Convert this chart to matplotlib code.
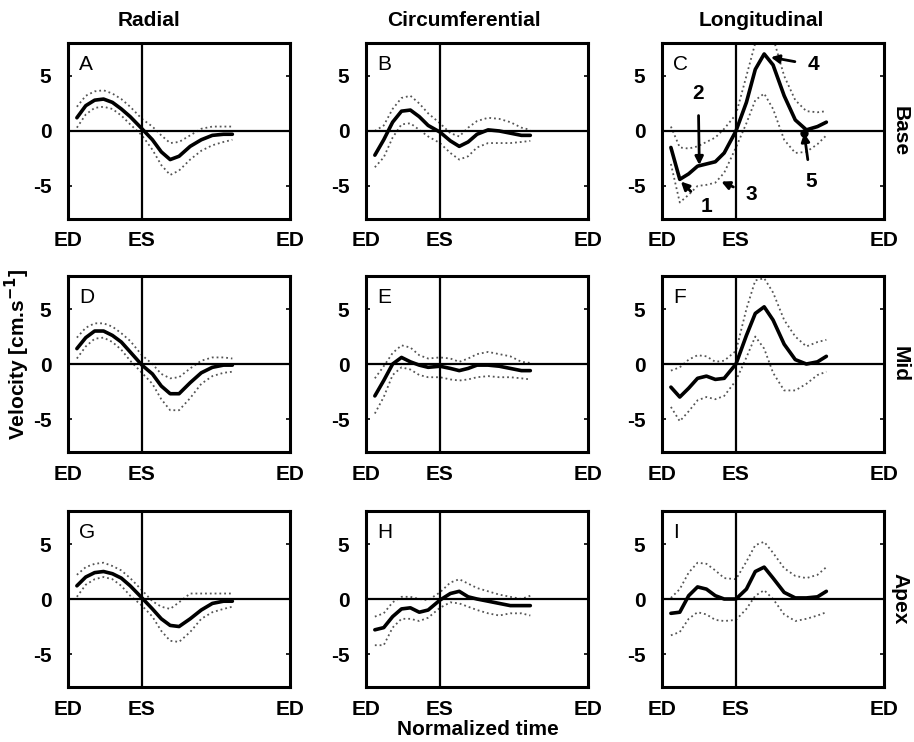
import matplotlib
matplotlib.use("Agg")
import matplotlib.pyplot as plt
import numpy as np

plt.rcParams['font.family'] = ['Liberation Sans', 'DejaVu Sans']

# normalized time: 0 = ED, 1/3 = ES, 1 = ED
t = [0.04, 0.08, 0.12, 0.16, 0.20, 0.24, 0.28, 0.333, 0.38, 0.42, 0.46, 0.50, 0.55, 0.60, 0.65, 0.70, 0.74]

col_titles = ['Radial', 'Circumferential', 'Longitudinal']
row_titles = ['Base', 'Mid', 'Apex']
letters = ['A', 'B', 'C', 'D', 'E', 'F', 'G', 'H', 'I']
xtick_pos = [0, 1 / 3, 1]
xtick_labels = ['ED', 'ES', 'ED']
ytick_pos = [-5, 0, 5]

# mean velocity, upper and lower bound for each panel (cm/s)
A_mean = [1.2, 2.3, 2.8, 2.9, 2.6, 2.0, 1.3, 0.2, -0.8, -1.9, -2.6, -2.3, -1.4, -0.8, -0.4, -0.3, -0.3]
A_up = [2.2, 3.2, 3.6, 3.7, 3.4, 2.9, 2.2, 1.1, 0.4, -0.4, -1.1, -1.0, -0.4, 0.2, 0.4, 0.4, 0.4]
A_lo = [0.3, 1.5, 2.1, 2.2, 2.0, 1.4, 0.6, -0.4, -1.7, -3.1, -4.0, -3.6, -2.6, -1.8, -1.3, -1.0, -0.8]

B_mean = [-2.2, -0.8, 0.8, 1.8, 1.9, 1.3, 0.5, -0.1, -0.9, -1.4, -1.0, -0.3, 0.1, 0.0, -0.2, -0.4, -0.4]
B_up = [0.0, 0.5, 2.0, 3.0, 3.2, 2.5, 1.6, 0.7, -0.2, -0.5, 0.3, 0.9, 1.2, 1.1, 0.8, 0.3, 0.1]
B_lo = [-3.3, -2.4, -0.6, 0.6, 0.7, 0.1, -0.5, -1.1, -2.0, -2.6, -2.3, -1.5, -1.1, -1.1, -1.1, -1.0, -0.9]

C_mean = [-1.5, -4.4, -3.9, -3.2, -3.0, -2.8, -2.0, 0.0, 2.6, 5.6, 7.0, 6.0, 3.2, 1.0, 0.1, 0.4, 0.8]
C_up = [0.4, -1.5, -1.6, -1.4, -1.0, -0.6, 0.2, 1.5, 5.0, 8.0, 9.5, 8.5, 5.0, 2.8, 1.8, 1.7, 1.8]
C_lo = [-3.0, -6.5, -5.8, -5.0, -4.9, -4.7, -3.8, -1.5, 0.7, 2.8, 3.4, 2.0, -0.8, -2.0, -1.9, -1.2, -0.4]

D_mean = [1.4, 2.4, 3.0, 3.0, 2.6, 2.0, 1.1, -0.1, -0.9, -2.0, -2.7, -2.7, -1.7, -0.8, -0.3, -0.1, -0.1]
D_up = [2.4, 3.3, 3.7, 3.7, 3.4, 2.8, 2.1, 0.8, 0.0, -0.9, -1.3, -1.2, -0.4, 0.3, 0.6, 0.6, 0.5]
D_lo = [0.5, 1.6, 2.3, 2.4, 2.0, 1.3, 0.3, -0.8, -1.8, -3.2, -4.2, -4.2, -3.1, -1.8, -1.1, -0.8, -0.7]

E_mean = [-2.9, -1.5, 0.0, 0.6, 0.2, -0.1, -0.3, -0.2, -0.4, -0.6, -0.4, -0.1, -0.1, -0.2, -0.4, -0.6, -0.6]
E_up = [-1.3, -0.2, 1.0, 1.7, 1.5, 0.8, 0.5, 0.6, 0.5, 0.2, 0.5, 0.9, 1.1, 0.9, 0.7, 0.2, 0.1]
E_lo = [-4.5, -3.0, -1.0, -0.3, -0.5, -1.0, -1.2, -1.2, -1.4, -1.5, -1.4, -1.2, -1.1, -1.2, -1.2, -1.3, -1.4]

F_mean = [-2.1, -3.0, -2.2, -1.3, -1.1, -1.4, -1.3, 0.0, 2.6, 4.6, 5.2, 4.0, 1.8, 0.4, 0.0, 0.2, 0.7]
F_up = [-0.6, -0.3, 0.4, 0.8, 0.7, 0.2, 0.3, 1.2, 5.0, 7.6, 7.8, 6.5, 4.0, 2.5, 1.6, 2.0, 2.2]
F_lo = [-3.9, -5.2, -4.3, -3.3, -3.0, -3.2, -2.9, -1.5, 0.6, 2.5, 1.4, -0.8, -2.4, -2.4, -1.8, -1.0, -0.7]

G_mean = [1.2, 2.0, 2.4, 2.5, 2.3, 1.9, 1.2, 0.1, -0.9, -1.8, -2.4, -2.5, -1.8, -1.0, -0.4, -0.2, -0.2]
G_up = [2.2, 2.9, 3.2, 3.3, 3.0, 2.6, 1.9, 0.8, -0.2, -0.7, -0.9, -0.3, 0.5, 0.5, 0.5, 0.5, 0.5]
G_lo = [0.2, 1.3, 1.8, 2.0, 1.8, 1.2, 0.3, -0.6, -1.6, -2.9, -3.8, -3.9, -3.0, -1.8, -1.2, -0.9, -0.7]

H_mean = [-2.8, -2.6, -1.6, -0.9, -0.8, -1.2, -1.0, -0.1, 0.5, 0.7, 0.2, 0.0, -0.2, -0.4, -0.6, -0.6, -0.6]
H_up = [-1.6, -1.3, -0.3, 0.2, 0.2, 0.0, -0.1, 0.6, 1.5, 1.8, 1.4, 1.0, 0.7, 0.4, 0.2, 0.0, 0.3]
H_lo = [-4.2, -4.2, -2.6, -1.8, -1.8, -2.0, -1.7, -0.8, -0.3, -0.4, -0.7, -1.0, -1.3, -1.5, -1.3, -1.3, -1.5]

I_mean = [-1.3, -1.2, 0.3, 1.1, 0.9, 0.3, 0.0, 0.0, 0.9, 2.5, 2.9, 1.9, 0.6, 0.1, 0.1, 0.2, 0.7]
I_up = [0.1, 0.9, 2.4, 3.3, 3.2, 2.6, 1.9, 1.8, 3.4, 4.9, 5.2, 4.2, 2.8, 2.1, 1.9, 2.2, 2.9]
I_lo = [-3.3, -3.0, -1.8, -1.2, -1.4, -1.9, -2.0, -1.9, -0.9, 0.3, 0.8, 0.0, -1.4, -2.0, -1.8, -1.5, -1.2]

panels = [(A_mean, A_up, A_lo), (B_mean, B_up, B_lo), (C_mean, C_up, C_lo),
          (D_mean, D_up, D_lo), (E_mean, E_up, E_lo), (F_mean, F_up, F_lo),
          (G_mean, G_up, G_lo), (H_mean, H_up, H_lo), (I_mean, I_up, I_lo)]

# numbered events in panel C: (label, point xy, label xy)
events = [('1', (0.085, -4.6), (0.20, -6.9)),
          ('2', (0.168, -3.1), (0.163, 3.4)),
          ('3', (0.267, -4.6), (0.40, -5.8)),
          ('4', (0.49, 6.7), (0.68, 6.0)),
          ('5', (0.64, -0.2), (0.67, -4.6))]

fig = plt.figure(figsize=(9.14, 7.42), dpi=100)
lefts = [0.0744, 0.4004, 0.7243]
bottoms = [0.7049, 0.3908, 0.0741]
w, h = 0.243, 0.2372
fs = 15

for i, (mean, up, lo) in enumerate(panels):
    r, c = divmod(i, 3)
    ax = fig.add_axes([lefts[c], bottoms[r], w, h])
    ax.plot(t, up, ':', color='#555555', lw=1.3)
    ax.plot(t, lo, ':', color='#555555', lw=1.3)
    ax.plot(t, mean, '-', color='black', lw=2.6, solid_joinstyle='round',
            solid_capstyle='round')
    ax.axhline(0, color='black', lw=1.6)
    ax.axvline(1 / 3, color='black', lw=1.6)
    ax.set_xlim(0, 1)
    ax.set_ylim(-8, 8)
    ax.set_xticks(xtick_pos)
    ax.set_xticklabels(xtick_labels, fontsize=fs, fontweight='bold')
    ax.set_yticks(ytick_pos)
    ax.set_yticklabels([str(v) for v in ytick_pos], fontsize=fs, fontweight='bold')
    ax.tick_params(axis='x', length=0, pad=9)
    ax.tick_params(axis='y', direction='in', length=3, width=1.2, right=True, pad=12)
    for s in ax.spines.values():
        s.set_linewidth(2.2)
    ax.text(0.05, 0.93, letters[i], transform=ax.transAxes, fontsize=fs,
            va='top', ha='left')
    if i == 2:
        for lab, pt, txt in events:
            ax.annotate(lab, xy=pt, xytext=txt, fontsize=fs, fontweight='bold',
                        ha='center', va='center',
                        arrowprops=dict(arrowstyle='-|>', color='black', lw=2,
                                        mutation_scale=12, shrinkA=7, shrinkB=0))
        ax.plot([0.64], [-0.2], 'o', color='black', ms=5)

title_x = [0.163, 0.508, 0.833]
for c, title in enumerate(col_titles):
    fig.text(title_x[c], 0.973, title, fontsize=fs, fontweight='bold',
             ha='center', va='center')
for r, title in enumerate(row_titles):
    fig.text(0.985, bottoms[r] + h / 2, title, fontsize=fs, fontweight='bold',
             ha='center', va='center', rotation=-90)

fig.text(0.019, 0.522, 'Velocity [cm.s$^{\\mathbf{-1}}$]', fontsize=15, fontweight='bold',
         ha='center', va='center', rotation=90)
fig.text(0.523, 0.017, 'Normalized time', fontsize=fs, fontweight='bold',
         ha='center', va='center')

fig.savefig('out.png', dpi=100)
